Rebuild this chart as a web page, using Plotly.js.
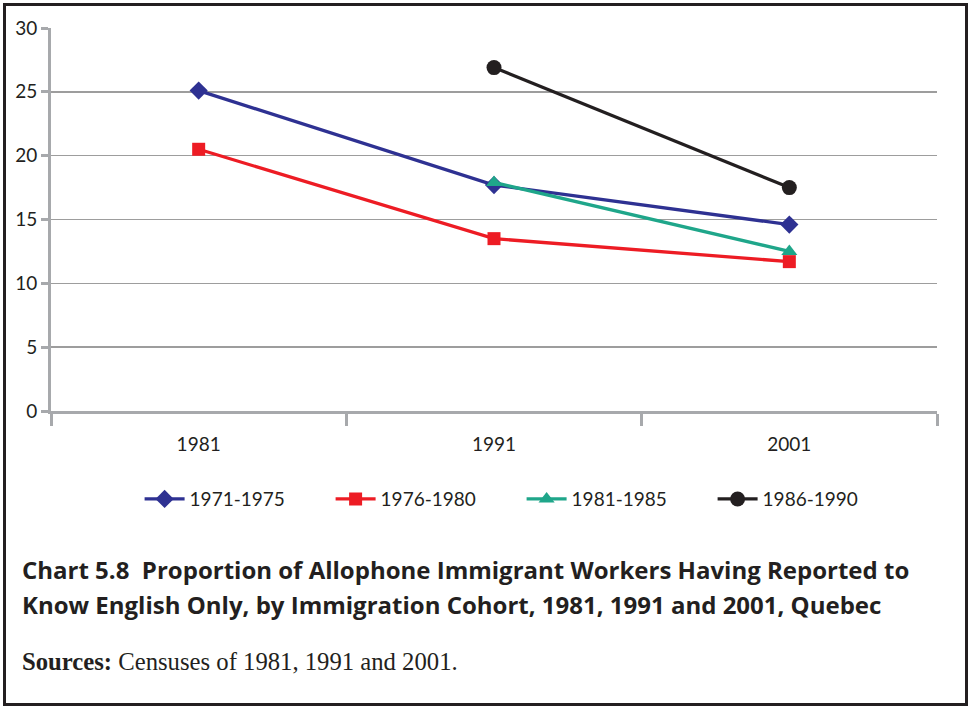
<!DOCTYPE html>
<html>
<head>
<meta charset="utf-8">
<script src="https://cdn.plot.ly/plotly-3.0.1.min.js"></script>
<style>
  html, body { margin: 0; padding: 0; background: #fff; }
  #wrap { position: relative; width: 968px; height: 706px; }
  #chart { width: 968px; height: 706px; }
  #frame { position: absolute; left: 3px; top: 3px; width: 959px; height: 697px;
           border: 3px solid #231f20; pointer-events: none; }
</style>
</head>
<body>
<div id="wrap">
  <div id="chart"></div>
  <div id="frame"></div>
</div>
<script>
const years = ["1981", "1991", "2001"];
const cohorts = ["1971-1975", "1976-1980", "1981-1985", "1986-1990"];
const v1971_1975 = [25.1, 17.7, 14.6];
const v1976_1980 = [20.5, 13.5, 11.7];
const v1981_1985 = [null, 17.9, 12.5];
const v1986_1990 = [null, 26.9, 17.5];
const yTicks = [0, 5, 10, 15, 20, 25, 30];
const gridTicks = [5, 10, 15, 20, 25];
const titleLines = [
  "Chart 5.8  Proportion of Allophone Immigrant Workers Having Reported to",
  "Know English Only, by Immigration Cohort, 1981, 1991 and 2001, Quebec"
];

const colors = ["#2e3192", "#ed1c24", "#1fa68a", "#231f20"];
const symbols = ["diamond", "square", "triangle-up", "circle"];
const sizes = [14, 13, 14, 15];
const series = [v1971_1975, v1976_1980, v1981_1985, v1986_1990];

const traces = series.map((vals, i) => ({
  type: "scatter",
  mode: "lines+markers",
  name: cohorts[i],
  x: years,
  y: vals,
  line: { color: colors[i], width: 3.3 },
  marker: { color: colors[i], symbol: symbols[i], size: sizes[i] },
  connectgaps: false
}));
// invisible trace to activate overlaid grid axis
traces.push({ type: "scatter", x: years, y: [null, null, null], yaxis: "y2",
  showlegend: false, hoverinfo: "skip", mode: "lines" });

const tickFont = { family: "Lato, 'Open Sans', sans-serif", size: 19, color: "#231f20" };
const titleFont = { family: "'Open Sans', Lato, sans-serif", size: 24, color: "#231f20" };

const layout = {
  width: 968, height: 706,
  margin: { l: 51, r: 31, t: 28, b: 295 },
  paper_bgcolor: "#fff", plot_bgcolor: "rgba(0,0,0,0)",
  showlegend: true,
  legend: {
    orientation: "h", x: 0.100, xanchor: "left", y: -0.23, yanchor: "middle",
    font: tickFont, entrywidth: 136, entrywidthmode: "pixels",
    itemwidth: 40, tracegroupgap: 0, bgcolor: "rgba(0,0,0,0)"
  },
  xaxis: {
    type: "category", range: [-0.5, 2.5],
    showline: true, linecolor: "#a7a9ac", linewidth: 3,
    ticks: "outside", tickson: "boundaries", ticklen: 12, tickwidth: 3, tickcolor: "#a7a9ac",
    showgrid: false, zeroline: false,
    tickfont: tickFont, ticklabelstandoff: 14, fixedrange: true
  },
  yaxis: {
    range: [0, 30], tickvals: yTicks,
    showline: true, linecolor: "#a7a9ac", linewidth: 3,
    ticks: "outside", ticklen: 7, tickwidth: 3, tickcolor: "#a7a9ac",
    showgrid: false, zeroline: false,
    tickfont: tickFont, fixedrange: true
  },
  yaxis2: {
    overlaying: "y", range: [0, 30], tickvals: gridTicks,
    showgrid: true, gridcolor: "#9d9d9d", gridwidth: 1.5,
    showticklabels: false, ticks: "", showline: false, zeroline: false, fixedrange: true
  },
  annotations: [
    {
      xref: "paper", yref: "paper", x: -0.0345, y: -0.415, xanchor: "left", yanchor: "middle",
      align: "left", showarrow: false,
      text: "<b>" + titleLines[0] + "</b>", font: titleFont
    },
    {
      xref: "paper", yref: "paper", x: -0.0345, y: -0.5065, xanchor: "left", yanchor: "middle",
      align: "left", showarrow: false,
      text: "<b>" + titleLines[1] + "</b>", font: titleFont
    },
    {
      xref: "paper", yref: "paper", x: -0.0345, y: -0.655, xanchor: "left", yanchor: "middle",
      align: "left", showarrow: false,
      text: "<b>Sources:</b> Censuses of 1981, 1991 and 2001.",
      font: { family: "'Liberation Serif', 'DejaVu Serif', serif", size: 24.7, color: "#231f20" }
    }
  ]
};

Plotly.newPlot("chart", traces, layout, { displayModeBar: false, staticPlot: true });
</script>
</body>
</html>
